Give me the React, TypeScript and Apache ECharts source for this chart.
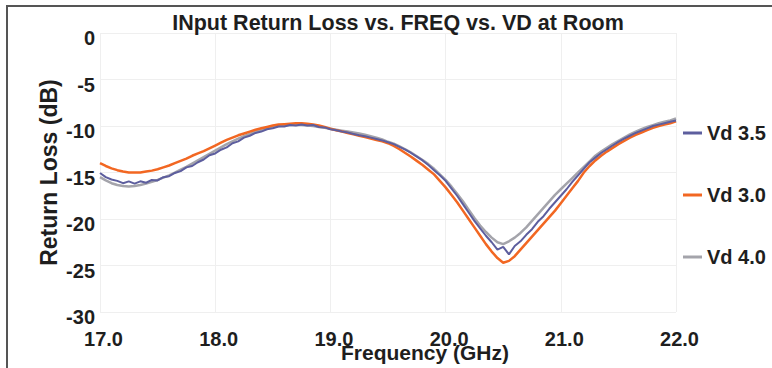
import React, { useEffect, useRef } from "react";
import * as echarts from "echarts";

// Frequency sweep points (GHz)
const freq: number[] = [
  17.0, 17.05, 17.1, 17.15, 17.2, 17.25, 17.3, 17.35, 17.4, 17.45,
  17.5, 17.55, 17.6, 17.65, 17.7, 17.75, 17.8, 17.85, 17.9, 17.95,
  18.0, 18.05, 18.1, 18.15, 18.2, 18.25, 18.3, 18.35, 18.4, 18.45,
  18.5, 18.55, 18.6, 18.65, 18.7, 18.75, 18.8, 18.85, 18.9, 18.95,
  19.0, 19.05, 19.1, 19.15, 19.2, 19.25, 19.3, 19.35, 19.4, 19.45,
  19.5, 19.55, 19.6, 19.65, 19.7, 19.75, 19.8, 19.85, 19.9, 19.95,
  20.0, 20.05, 20.1, 20.15, 20.2, 20.25, 20.3, 20.35, 20.4, 20.45,
  20.5, 20.55, 20.6, 20.65, 20.7, 20.75, 20.8, 20.85, 20.9, 20.95,
  21.0, 21.05, 21.1, 21.15, 21.2, 21.25, 21.3, 21.35, 21.4, 21.45,
  21.5, 21.55, 21.6, 21.65, 21.7, 21.75, 21.8, 21.85, 21.9, 21.95,
  22.0,
];

// Input return loss (dB), Vd = 3.5 V
const vd35: number[] = [
  -15.05, -15.5, -15.75, -15.9, -16.15, -15.95, -16.2, -15.95, -16.1, -15.8,
  -15.85, -15.5, -15.4, -15.05, -14.85, -14.45, -14.3, -13.9, -13.6, -13.15,
  -12.95, -12.55, -12.3, -11.85, -11.65, -11.25, -11.05, -10.75, -10.6, -10.35,
  -10.25, -10.05, -10.05, -9.9, -9.95, -9.85, -9.95, -9.9, -10.1, -10.15,
  -10.35, -10.45, -10.6, -10.7, -10.85, -11.0, -11.1, -11.25, -11.4, -11.55,
  -11.75, -11.95, -12.25, -12.55, -12.9, -13.3, -13.7, -14.2, -14.75, -15.3,
  -15.9, -16.7, -17.5, -18.4, -19.3, -20.2, -21.0, -21.8, -22.5, -23.3,
  -23.0, -23.8, -22.9, -22.4, -21.7, -21.1, -20.3, -19.7, -18.9, -18.2,
  -17.5, -16.8, -16.0, -15.3, -14.6, -13.9, -13.4, -12.9, -12.5, -12.1,
  -11.7, -11.35, -11.05, -10.75, -10.5, -10.25, -10.0, -9.85, -9.7, -9.55,
  -9.4,
];

// Input return loss (dB), Vd = 3.0 V
const vd30: number[] = [
  -14.0, -14.3, -14.55, -14.75, -14.9, -15.0, -15.0, -15.0, -14.9, -14.8,
  -14.65, -14.45, -14.25, -14.0, -13.75, -13.5, -13.2, -12.95, -12.7, -12.4,
  -12.1, -11.8, -11.5, -11.25, -11.0, -10.8, -10.6, -10.4, -10.25, -10.1,
  -9.95, -9.85, -9.8, -9.75, -9.7, -9.7, -9.75, -9.85, -9.95, -10.1,
  -10.3, -10.45, -10.6, -10.75, -10.9, -11.05, -11.2, -11.35, -11.5, -11.65,
  -11.85, -12.15, -12.5, -12.9, -13.3, -13.75, -14.2, -14.7, -15.2, -15.9,
  -16.6, -17.4, -18.2, -19.1, -20.0, -20.9, -21.8, -22.7, -23.5, -24.2,
  -24.7, -24.5, -24.0, -23.3, -22.6, -21.9, -21.2, -20.5, -19.8, -19.1,
  -18.3, -17.5, -16.7, -15.9, -15.0, -14.3, -13.7, -13.2, -12.75, -12.35,
  -11.95, -11.6, -11.25, -10.95, -10.7, -10.45, -10.2, -10.0, -9.85, -9.7,
  -9.5,
];

// Input return loss (dB), Vd = 4.0 V
const vd40: number[] = [
  -15.5, -15.85, -16.15, -16.35, -16.45, -16.5, -16.45, -16.35, -16.2, -16.0,
  -15.8, -15.55, -15.3, -15.0, -14.7, -14.4, -14.05, -13.7, -13.35, -13.0,
  -12.65, -12.3, -11.95, -11.65, -11.35, -11.1, -10.85, -10.6, -10.4, -10.25,
  -10.1, -10.0, -9.95, -9.9, -9.9, -9.9, -9.95, -10.0, -10.1, -10.2,
  -10.3, -10.4, -10.5, -10.6, -10.7, -10.8, -10.95, -11.1, -11.25, -11.45,
  -11.7, -11.9, -12.2, -12.5, -12.85, -13.25, -13.65, -14.1, -14.6, -15.2,
  -15.8, -16.5, -17.3, -18.1, -19.0, -19.9, -20.7, -21.4, -22.0, -22.5,
  -22.7, -22.4, -22.0, -21.5, -20.9, -20.2, -19.5, -18.8, -18.1, -17.4,
  -16.8, -16.2, -15.6, -15.0, -14.4, -13.8, -13.2, -12.75, -12.35, -11.95,
  -11.6, -11.25, -10.9, -10.6, -10.35, -10.1, -9.9, -9.7, -9.55, -9.4,
  -9.2,
];

const seriesNames = ["Vd 3.5", "Vd 3.0", "Vd 4.0"];
const seriesColors = ["#5d5e9e", "#f26722", "#a4a4ab"];

const FONT = '"Liberation Sans", Arial, Helvetica, sans-serif';

const zip = (ys: number[]) => freq.map((f, i) => [f, ys[i]]);

export default function App() {
  const ref = useRef<HTMLDivElement>(null);

  useEffect(() => {
    if (!ref.current) return;
    const chart = echarts.init(ref.current, null, { renderer: "svg" });
    const line = (name: string, ys: number[], color: string, width: number, z: number) => ({
      name,
      type: "line",
      data: zip(ys),
      showSymbol: false,
      symbol: "none",
      smooth: false,
      z,
      lineStyle: { color, width },
      itemStyle: { color },
    });
    chart.setOption({
      animation: false,
      backgroundColor: "#ffffff",
      title: {
        text: "INput Return Loss vs. FREQ vs. VD at Room",
        left: 393,
        top: 7,
        textAlign: "center",
        textStyle: { fontFamily: FONT, fontWeight: "bold", fontSize: 21.5, color: "#1e1e1e" },
      },
      legend: {
        orient: "vertical",
        left: 678,
        top: 117,
        itemGap: 40,
        itemWidth: 19,
        itemHeight: 3,
        icon: "rect",
        data: seriesNames,
        textStyle: { fontFamily: FONT, fontWeight: "bold", fontSize: 20, color: "#1e1e1e", lineHeight: 22 },
      },
      grid: { left: 100, right: 96, top: 33, bottom: 56, containLabel: false, outerBoundsMode: "none" },
      xAxis: {
        type: "value",
        min: 17,
        max: 22,
        interval: 1,
        name: "Frequency (GHz)",
        nameLocation: "middle",
        nameGap: 30,
        nameMoveOverlap: false,
        nameTextStyle: {
          fontFamily: FONT,
          fontWeight: "bold",
          fontSize: 21,
          color: "#1e1e1e",
          padding: [0, 0, 0, 74],
        },
        axisLine: { show: false },
        axisTick: { show: false },
        splitLine: { show: true, lineStyle: { color: "#efefef", width: 1 } },
        axisLabel: {
          fontFamily: FONT,
          fontWeight: "bold",
          fontSize: 20,
          color: "#1e1e1e",
          margin: 17,
          padding: [0, 0, 0, 7],
          formatter: (v: number) => v.toFixed(1),
        },
      },
      yAxis: {
        type: "value",
        min: -30,
        max: 0,
        interval: 5,
        name: "Return Loss (dB)",
        nameLocation: "middle",
        nameGap: 40,
        nameRotate: 90,
        nameMoveOverlap: false,
        nameTextStyle: { fontFamily: FONT, fontWeight: "bold", fontSize: 23, color: "#1e1e1e" },
        axisLine: { show: false },
        axisTick: { show: false },
        splitLine: { show: true, lineStyle: { color: "#efefef", width: 1 } },
        axisLabel: {
          fontFamily: FONT,
          fontWeight: "bold",
          fontSize: 20,
          color: "#1e1e1e",
          margin: 5,
          verticalAlign: "top",
          lineHeight: 10,
        },
      },
      graphic: [
        {
          type: "rect",
          silent: true,
          shape: { x: 7, y: 6, width: 820, height: 420 },
          style: { fill: "none", stroke: "#555555", lineWidth: 2 },
        },
      ],
      series: [
        line(seriesNames[0], vd35, seriesColors[0], 2, 3),
        line(seriesNames[1], vd30, seriesColors[1], 2.5, 2),
        line(seriesNames[2], vd40, seriesColors[2], 2.5, 1),
      ],
    });
    return () => chart.dispose();
  }, []);

  return (
    <div
      ref={ref}
      style={{ position: "fixed", left: 0, top: 0, width: 772, height: 368 }}
    />
  );
}
